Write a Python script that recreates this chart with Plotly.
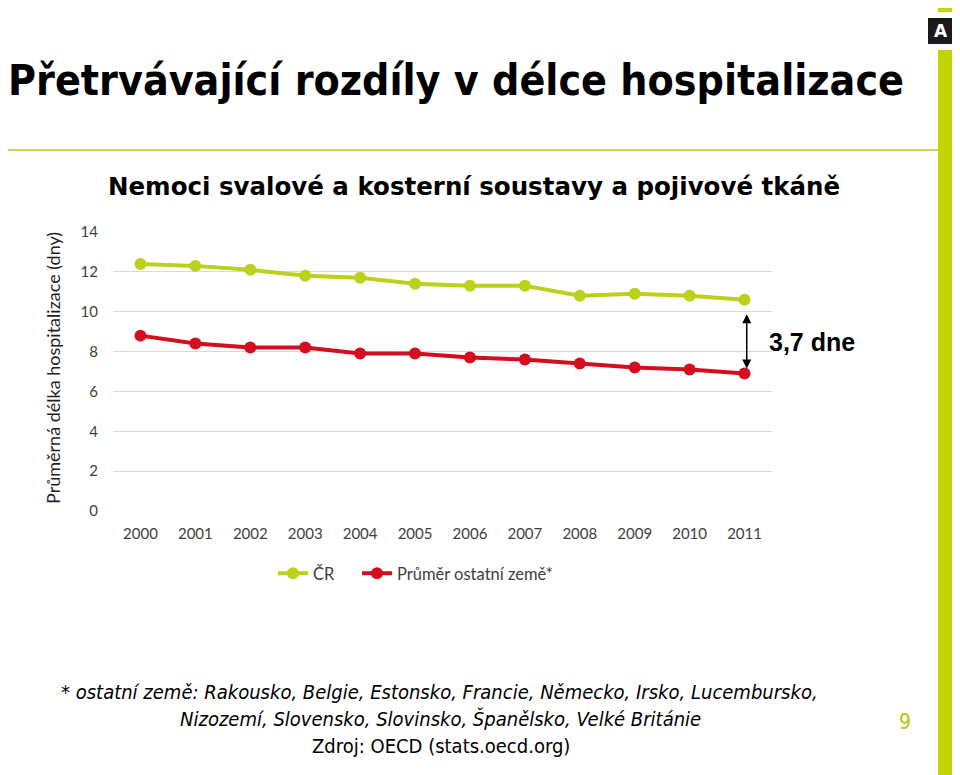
import plotly.graph_objects as go

years = [2000, 2001, 2002, 2003, 2004, 2005, 2006, 2007, 2008, 2009, 2010, 2011]
cr_values = [12.4, 12.3, 12.1, 11.8, 11.7, 11.4, 11.3, 11.3, 10.8, 10.9, 10.8, 10.6]
other_values = [8.8, 8.4, 8.2, 8.2, 7.9, 7.9, 7.7, 7.6, 7.4, 7.2, 7.1, 6.9]
y_ticks = [0, 2, 4, 6, 8, 10, 12, 14]
series_names = ["ČR", "Průměr ostatní země*"]
gap_label = "3,7 dne"

title_text = "Přetrvávající rozdíly v délce hospitalizace"
subtitle_text = "Nemoci svalové a kosterní soustavy a pojivové tkáně"
y_title = "Průměrná délka hospitalizace (dny)"
foot1 = "* ostatní země: Rakousko, Belgie, Estonsko, Francie, Německo, Irsko, Lucembursko,"
foot2 = "Nizozemí, Slovensko, Slovinsko, Španělsko, Velké Británie"
foot3 = "Zdroj: OECD (stats.oecd.org)"
page_no = "9"

GREEN = "#bcd11c"
RED = "#d40d1f"
OFF = 8  # page body margin
W, H = 960 - OFF, 775 - OFF
L, R, T, B = 113, 772, 232, 511  # plot area in page pixels


def px(x):
    return (x - L) / (R - L)


def py(y):
    return (B - y) / (B - T)


fig = go.Figure()
fig.add_trace(go.Scatter(x=years, y=cr_values, name=series_names[0], mode="lines+markers",
                         line=dict(color=GREEN, width=4), marker=dict(size=12, color=GREEN),
                         legend="legend"))
fig.add_trace(go.Scatter(x=years, y=other_values, name=series_names[1], mode="lines+markers",
                         line=dict(color=RED, width=4), marker=dict(size=12, color=RED),
                         legend="legend2"))

tick_font = dict(family="Lato, Open Sans, sans-serif", size=15, color="#404040")
leg_font = dict(family="Lato, Open Sans, sans-serif", size=16.5, color="#404040")
fig.update_layout(
    width=W, height=H,
    margin=dict(l=L - OFF, r=W - (R - OFF), t=T - OFF, b=H - (B - OFF), pad=0),
    paper_bgcolor="white", plot_bgcolor="white",
    showlegend=True,
    legend=dict(orientation="h", x=px(273), y=py(556), xanchor="left", yanchor="top",
                font=leg_font, bgcolor="rgba(0,0,0,0)"),
    legend2=dict(orientation="h", x=px(357), y=py(556), xanchor="left", yanchor="top",
                 font=leg_font, bgcolor="rgba(0,0,0,0)"),
    xaxis=dict(range=[1999.5, 2011.5], tickvals=years, ticktext=[str(v) for v in years],
               showgrid=False, zeroline=False, showline=False, ticks="", tickfont=tick_font,
               ticklabelstandoff=12, fixedrange=True),
    yaxis=dict(range=[0, 14], tickvals=y_ticks, showgrid=True, gridcolor="#d9d9d9", gridwidth=1,
               zeroline=False, showline=False, ticks="", tickfont=tick_font,
               ticklabelstandoff=14, fixedrange=True),
)

shapes = []
shapes.append(dict(type="rect", xref="paper", yref="paper", x0=px(938), x1=px(975), y0=py(790), y1=py(-10),
                   fillcolor="#c2d500", line=dict(width=0), layer="above"))
shapes.append(dict(type="line", xref="paper", yref="paper", x0=px(5), x1=px(938), y0=py(150), y1=py(150),
                   line=dict(color="#cad65a", width=2)))
shapes.append(dict(type="rect", xref="paper", yref="paper", x0=px(921), x1=px(960), y0=py(50), y1=py(12),
                   fillcolor="white", line=dict(width=0), layer="above"))
shapes.append(dict(type="rect", xref="paper", yref="paper", x0=px(928), x1=px(954), y0=py(44), y1=py(18),
                   fillcolor="#1a1a1a", line=dict(width=0), layer="above"))
fig.update_layout(shapes=shapes)

ann = []
ann.append(dict(text="<b>" + title_text + "</b>", xref="paper", yref="paper", x=px(6), y=py(80),
                xanchor="left", yanchor="middle", showarrow=False,
                font=dict(family="DejaVu Sans Condensed, DejaVu Sans", size=42.5, color="black")))
ann.append(dict(text="<b>" + subtitle_text + "</b>", xref="paper", yref="paper", x=px(106), y=py(186),
                xanchor="left", yanchor="middle", showarrow=False,
                font=dict(family="DejaVu Sans", size=24.5, color="black")))
ann.append(dict(text=y_title, xref="paper", yref="paper", x=px(53), y=py(368), xanchor="center", yanchor="middle",
                textangle=-90, showarrow=False,
                font=dict(family="Lato, Open Sans, sans-serif", size=18, color="#1f1f1f")))
ann.append(dict(text="<b>" + gap_label + "</b>", xref="paper", yref="paper", x=px(767), y=py(342), xanchor="left",
                yanchor="middle", showarrow=False,
                font=dict(family="Liberation Sans, Arial", size=25, color="black")))
ann.append(dict(x=2011.04, y=7.15, ax=2011.04, ay=9.95, xref="x", yref="y", axref="x", ayref="y",
                text="", showarrow=True, arrowhead=2, startarrowhead=2, arrowside="end+start",
                arrowsize=1.2, startarrowsize=1.2, arrowwidth=1.5, arrowcolor="black"))
foot_font = dict(family="DejaVu Sans Condensed, DejaVu Sans", size=20, color="black", style="italic")
ann.append(dict(text=foot1, xref="paper", yref="paper", x=px(439), y=py(692), xanchor="center", yanchor="middle",
                showarrow=False, font=foot_font))
ann.append(dict(text=foot2, xref="paper", yref="paper", x=px(440), y=py(719), xanchor="center", yanchor="middle",
                showarrow=False, font=foot_font))
ann.append(dict(text=foot3, xref="paper", yref="paper", x=px(441), y=py(746), xanchor="center", yanchor="middle",
                showarrow=False, font=dict(family="DejaVu Sans Condensed, DejaVu Sans", size=20, color="black")))
ann.append(dict(text=page_no, xref="paper", yref="paper", x=px(905), y=py(722), xanchor="center", yanchor="middle",
                showarrow=False, font=dict(family="DejaVu Sans Condensed, DejaVu Sans", size=21, color="#b4c800")))
ann.append(dict(text="<b>A</b>", xref="paper", yref="paper", x=px(941), y=py(31), xanchor="center", yanchor="middle",
                showarrow=False, font=dict(family="DejaVu Sans", size=17, color="white")))
fig.update_layout(annotations=ann)

fig.write_html("out.html")
